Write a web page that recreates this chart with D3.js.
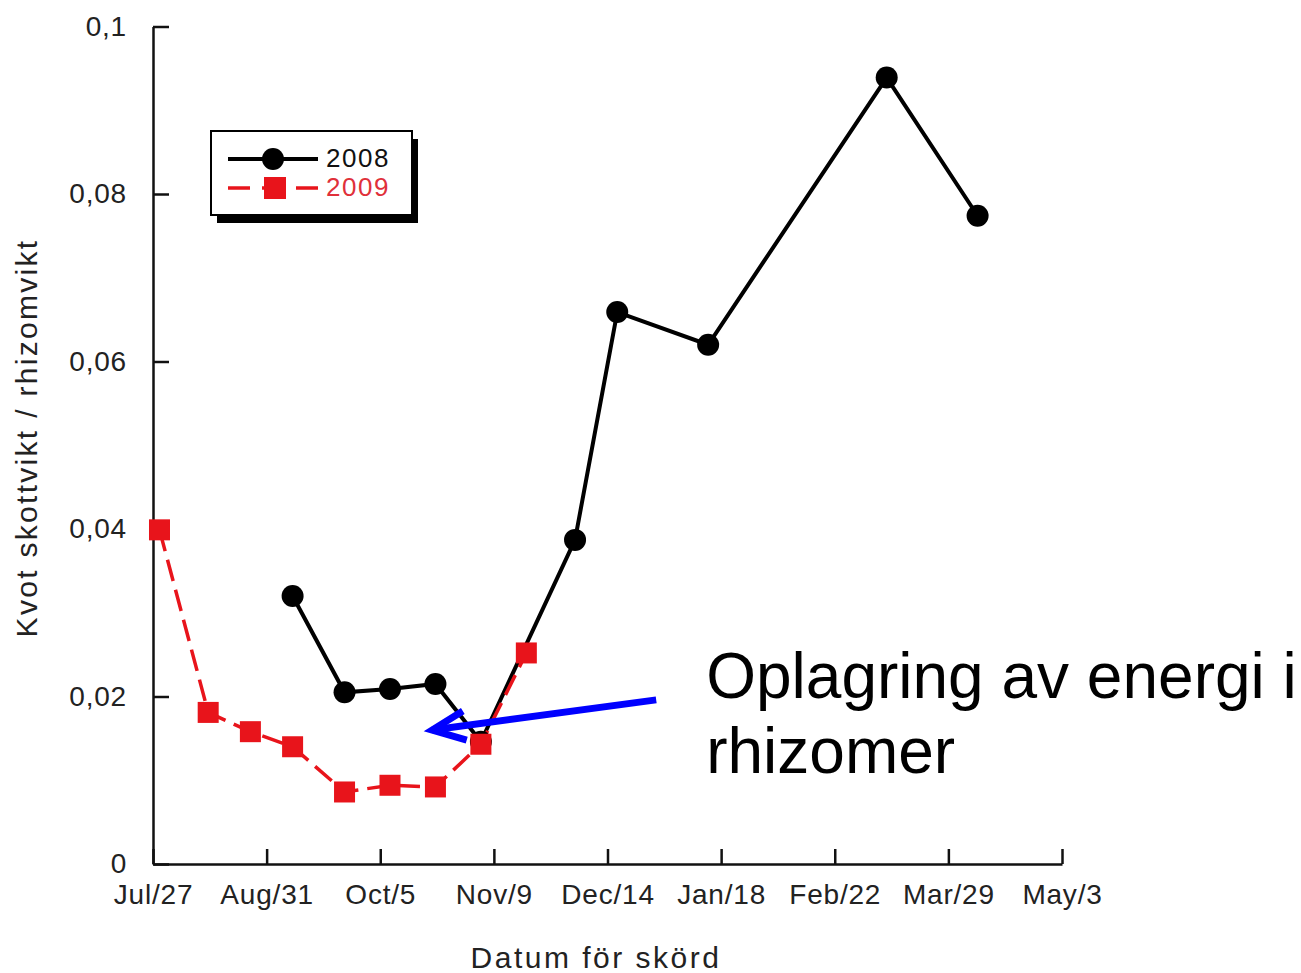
<!DOCTYPE html>
<html>
<head>
<meta charset="utf-8">
<script src="https://cdn.jsdelivr.net/npm/d3@7"></script>
<style>
  body { margin: 0; background: #fff; }
  svg { display: block; font-family: "Liberation Sans", Arial, Helvetica, sans-serif; }
</style>
</head>
<body>
<div id="chart"></div>
<script>
"use strict";

// season axis, harvest dates given as month-day
const seasonStart = "07-27";
const seasonEnd = "05-03";
const tickDates = ["07-27", "08-31", "10-05", "11-09", "12-14", "01-18", "02-22", "03-29", "05-03"];
const tickLabels = ["Jul/27", "Aug/31", "Oct/5", "Nov/9", "Dec/14", "Jan/18", "Feb/22", "Mar/29", "May/3"];
const yTicks = [0, 0.02, 0.04, 0.06, 0.08, 0.1];
const yTickLabels = ["0", "0,02", "0,04", "0,06", "0,08", "0,1"];

// 2008 series (black circles)
const dates2008 = ["09-08", "09-24", "10-08", "10-22", "11-05", "12-04", "12-17", "01-14", "03-10", "04-07"];
const values2008 = [0.0320, 0.0205, 0.0209, 0.0215, 0.0146, 0.0387, 0.0659, 0.0620, 0.0939, 0.0774];

// 2009 series (red squares, dashed)
const dates2009 = ["07-29", "08-13", "08-26", "09-08", "09-24", "10-08", "10-22", "11-05", "11-19"];
const values2009 = [0.0399, 0.0181, 0.0158, 0.0140, 0.0086, 0.0094, 0.0092, 0.0143, 0.0252];

// annotation arrow (tail -> tip), in data units
const arrowDates = ["12-29", "10-21"];
const arrowValues = [0.0196, 0.0160];
const noteLines = ["Oplagring av energi i", "rhizomer"];

const msm = { width: 1301, height: 973, left: 153, right: 1062, top: 26.5, bottom: 864 };
const red = "#e8141b";

// month-day -> date on one season axis (Jul..Dec 2008, Jan..Jun 2009)
function seasonDate(md) {
    let month = +md.split("-")[0];
    return d3.utcParse("%Y-%m-%d")((month >= 7 ? "2008-" : "2009-") + md);
}

let svg = d3.select("#chart").append("svg")
    .attr("width", msm.width)
    .attr("height", msm.height);

let x = d3.scaleUtc()
    .domain([seasonDate(seasonStart), seasonDate(seasonEnd)])
    .range([msm.left, msm.right]);

let y = d3.scaleLinear()
    .domain([0, 0.1])
    .range([msm.bottom, msm.top]);

// axes, ticks pointing inwards
let xAxis = d3.axisBottom(x)
    .tickValues(tickDates.map(seasonDate))
    .tickFormat((d, i) => tickLabels[i])
    .tickSizeInner(-15)
    .tickSizeOuter(0)
    .tickPadding(20);

let yAxis = d3.axisLeft(y)
    .tickValues(yTicks)
    .tickFormat((d, i) => yTickLabels[i])
    .tickSizeInner(-16)
    .tickSizeOuter(0)
    .tickPadding(26);

let gx = svg.append("g")
    .attr("transform", "translate(0," + msm.bottom + ")")
    .call(xAxis);
let gy = svg.append("g")
    .attr("transform", "translate(" + msm.left + ",0)")
    .call(yAxis);

[gx, gy].forEach((g) => {
    g.select(".domain").attr("stroke", "#111").attr("stroke-width", 2.5);
    g.selectAll(".tick line").attr("stroke", "#111").attr("stroke-width", 2.5);
    g.selectAll(".tick text")
        .attr("fill", "#222")
        .style("font-family", '"Liberation Sans", Arial, sans-serif')
        .style("font-size", "28px")
        .style("letter-spacing", "0.8px");
});

// axis titles
svg.append("text")
    .attr("x", 596)
    .attr("y", 968)
    .attr("text-anchor", "middle")
    .attr("fill", "#222")
    .style("font-size", "30px")
    .style("letter-spacing", "2.5px")
    .text("Datum för skörd");

svg.append("text")
    .attr("transform", "translate(37,438) rotate(-90)")
    .attr("text-anchor", "middle")
    .attr("fill", "#222")
    .style("font-size", "30px")
    .style("letter-spacing", "2.3px")
    .text("Kvot skottvikt / rhizomvikt");

// series
let s2008 = dates2008.map((d, i) => ({ date: seasonDate(d), value: values2008[i] }));
let s2009 = dates2009.map((d, i) => ({ date: seasonDate(d), value: values2009[i] }));

let line = d3.line()
    .x((d) => x(d.date))
    .y((d) => y(d.value));

svg.append("path")
    .datum(s2008)
    .attr("fill", "none")
    .attr("stroke", "#000")
    .attr("stroke-width", 4)
    .attr("d", line);

svg.append("path")
    .datum(s2009)
    .attr("fill", "none")
    .attr("stroke", red)
    .attr("stroke-width", 3.5)
    .attr("stroke-dasharray", "22,9")
    .attr("d", line);

svg.selectAll(".dot2008")
    .data(s2008)
    .enter()
    .append("circle")
    .attr("class", "dot2008")
    .attr("cx", (d) => x(d.date))
    .attr("cy", (d) => y(d.value))
    .attr("r", 11)
    .attr("fill", "#000");

let sq = 21;
svg.selectAll(".sq2009")
    .data(s2009)
    .enter()
    .append("rect")
    .attr("class", "sq2009")
    .attr("x", (d) => x(d.date) - sq / 2)
    .attr("y", (d) => y(d.value) - sq / 2)
    .attr("width", sq)
    .attr("height", sq)
    .attr("fill", red);

// legend box with drop shadow
let legend = svg.append("g").attr("transform", "translate(211,131)");
legend.append("rect")
    .attr("x", 6).attr("y", 8)
    .attr("width", 201).attr("height", 84)
    .attr("fill", "#000");
legend.append("rect")
    .attr("width", 201).attr("height", 84)
    .attr("fill", "#fff")
    .attr("stroke", "#000")
    .attr("stroke-width", 2);

legend.append("line")
    .attr("x1", 17).attr("x2", 107)
    .attr("y1", 28).attr("y2", 28)
    .attr("stroke", "#000").attr("stroke-width", 4);
legend.append("circle")
    .attr("cx", 62).attr("cy", 28).attr("r", 11)
    .attr("fill", "#000");
legend.append("text")
    .attr("x", 115).attr("y", 36)
    .attr("fill", "#111")
    .style("font-size", "26px")
    .style("letter-spacing", "1.5px")
    .text("2008");

legend.append("line")
    .attr("x1", 17).attr("x2", 113)
    .attr("y1", 57).attr("y2", 57)
    .attr("stroke", red).attr("stroke-width", 3.5)
    .attr("stroke-dasharray", "22,12");
legend.append("rect")
    .attr("x", 53).attr("y", 46)
    .attr("width", 22).attr("height", 22)
    .attr("fill", red);
legend.append("text")
    .attr("x", 115).attr("y", 65)
    .attr("fill", "#e0303a")
    .style("font-size", "26px")
    .style("letter-spacing", "1.5px")
    .text("2009");

// annotation arrow
let tail = [x(seasonDate(arrowDates[0])), y(arrowValues[0])];
let tip = [x(seasonDate(arrowDates[1])), y(arrowValues[1])];
let ang = Math.atan2(tail[1] - tip[1], tail[0] - tip[0]);
let headLen = 36, headAng = 0.42;
let arm1 = [tip[0] + headLen * Math.cos(ang - headAng), tip[1] + headLen * Math.sin(ang - headAng)];
let arm2 = [tip[0] + headLen * Math.cos(ang + headAng), tip[1] + headLen * Math.sin(ang + headAng)];

svg.append("path")
    .attr("d", d3.line()([tail, tip]))
    .attr("stroke", "#0000ff")
    .attr("stroke-width", 7)
    .attr("fill", "none");
svg.append("path")
    .attr("d", d3.line()([arm1, tip, arm2]))
    .attr("stroke", "#0000ff")
    .attr("stroke-width", 7)
    .attr("stroke-linejoin", "miter")
    .attr("fill", "none");

svg.selectAll(".note")
    .data(noteLines)
    .enter()
    .append("text")
    .attr("class", "note")
    .attr("x", tail[0] + 50)
    .attr("y", (d, i) => 698 + i * 75)
    .attr("fill", "#000")
    .style("font-size", "64px")
    .text((d) => d);
</script>
</body>
</html>
